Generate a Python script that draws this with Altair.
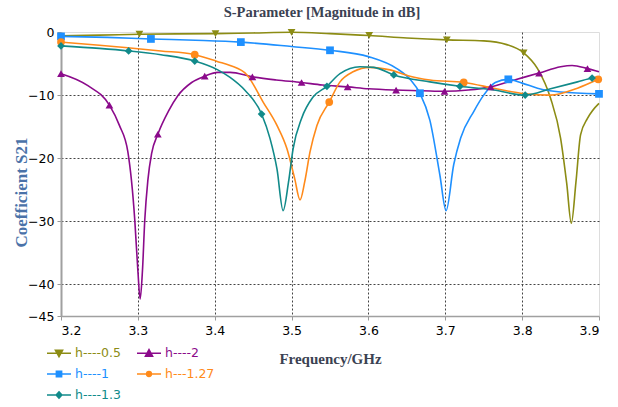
import altair as alt
import pandas as pd

series_names = ["h----0.5", "h----2", "h----1", "h---1.27", "h----1.3"]
series_colors = ["#8c8c14", "#8b0a8b", "#1e90ff", "#ff8a1a", "#118a8a"]
series_shapes = ["triangle-down", "triangle-up", "square", "circle", "diamond"]

# h----0.5
f_05 = [3.2, 3.25, 3.302, 3.35, 3.401, 3.45, 3.5, 3.55, 3.601, 3.65, 3.702, 3.75, 3.78, 3.802, 3.82, 3.837, 3.85, 3.858, 3.864, 3.87, 3.876, 3.885, 3.9]
s_05 = [-0.6, -0.5, -0.35, -0.3, -0.25, -0.15, -0.05, -0.25, -0.55, -0.95, -1.25, -1.4, -2.0, -3.3, -5.8, -10.5, -16.8, -24.0, -30.3, -23.8, -16.3, -13.7, -11.3]
mf_05 = [3.302, 3.401, 3.5, 3.601, 3.702, 3.802]
ms_05 = [-0.35, -0.25, -0.05, -0.55, -1.25, -3.3]

# h----2
f_2 = [3.2, 3.235, 3.263, 3.276, 3.287, 3.296, 3.3, 3.303, 3.306, 3.309, 3.313, 3.318, 3.326, 3.34, 3.352, 3.37, 3.387, 3.404, 3.42, 3.449, 3.48, 3.513, 3.54, 3.573, 3.6, 3.636, 3.67, 3.699, 3.73, 3.759, 3.79, 3.822, 3.85, 3.865, 3.885, 3.9]
s_2 = [-6.6, -8.5, -11.6, -14.8, -19.0, -29.8, -37.8, -42.3, -37.8, -29.8, -23.5, -19.2, -16.2, -12.5, -10.1, -8.0, -7.0, -6.4, -6.4, -7.1, -7.6, -8.0, -8.4, -8.7, -9.0, -9.2, -9.3, -9.4, -9.2, -8.7, -7.6, -6.5, -5.5, -5.3, -5.8, -6.3]
mf_2 = [3.2, 3.263, 3.326, 3.387, 3.449, 3.513, 3.573, 3.636, 3.699, 3.759, 3.822, 3.885]
ms_2 = [-6.6, -11.6, -16.2, -7.0, -7.1, -8.0, -8.7, -9.2, -9.4, -8.7, -6.5, -5.8]

# h----1
f_1 = [3.2, 3.26, 3.317, 3.375, 3.434, 3.5, 3.55, 3.6, 3.637, 3.655, 3.667, 3.68, 3.693, 3.701, 3.711, 3.72, 3.737, 3.75, 3.765, 3.782, 3.8, 3.82, 3.85, 3.9]
s_1 = [-0.7, -0.85, -1.1, -1.3, -1.6, -2.3, -2.9, -3.9, -5.8, -7.6, -9.7, -14.0, -22.7, -28.3, -21.0, -16.8, -12.6, -10.0, -8.0, -7.5, -8.1, -8.9, -9.5, -9.8]
mf_1 = [3.2, 3.317, 3.434, 3.55, 3.667, 3.782, 3.9]
ms_1 = [-0.7, -1.1, -1.6, -2.9, -9.7, -7.5, -9.8]

# h---1.27
f_127 = [3.2, 3.25, 3.287, 3.33, 3.374, 3.404, 3.42, 3.442, 3.463, 3.481, 3.494, 3.504, 3.511, 3.517, 3.524, 3.533, 3.549, 3.563, 3.58, 3.602, 3.628, 3.654, 3.68, 3.724, 3.763, 3.798, 3.837, 3.872, 3.899]
s_127 = [-1.6, -2.1, -2.5, -3.0, -3.6, -4.7, -5.3, -6.8, -11.1, -14.8, -18.5, -23.2, -26.6, -23.8, -19.0, -14.8, -11.1, -7.9, -6.3, -5.6, -6.0, -7.0, -7.6, -8.0, -8.9, -9.7, -10.0, -8.9, -7.5]
mf_127 = [3.2, 3.374, 3.549, 3.724, 3.899]
ms_127 = [-1.6, -3.6, -11.1, -8.0, -7.5]

# h----1.3
f_13 = [3.2, 3.25, 3.288, 3.33, 3.374, 3.404, 3.42, 3.439, 3.461, 3.472, 3.481, 3.489, 3.496, 3.502, 3.513, 3.528, 3.546, 3.563, 3.589, 3.607, 3.633, 3.68, 3.719, 3.763, 3.804, 3.837, 3.872, 3.891, 3.9]
s_13 = [-2.2, -2.6, -3.0, -3.6, -4.6, -6.0, -7.2, -9.2, -13.0, -16.9, -21.7, -28.3, -23.8, -18.5, -13.7, -10.3, -8.6, -6.6, -5.5, -5.6, -6.8, -7.9, -8.6, -9.2, -10.0, -9.0, -7.9, -7.3, -7.1]
mf_13 = [3.2, 3.288, 3.374, 3.461, 3.546, 3.633, 3.719, 3.804, 3.891]
ms_13 = [-2.2, -3.0, -4.6, -13.0, -8.6, -6.8, -8.6, -10.0, -7.3]

x_ticks = [3.2, 3.3, 3.4, 3.5, 3.6, 3.7, 3.8, 3.9]
y_ticks = [0, -10, -20, -30, -40, -45]

curves = [(f_05, s_05), (f_2, s_2), (f_1, s_1), (f_127, s_127), (f_13, s_13)]
marks = [(mf_05, ms_05), (mf_2, ms_2), (mf_1, ms_1), (mf_127, ms_127), (mf_13, ms_13)]

rows = []
for name, (fs, ss) in zip(series_names, curves):
    for f, s in zip(fs, ss):
        rows.append({"f": f, "db": s, "series": name})
curve_df = pd.DataFrame(rows)

rows = []
for name, (fs, ss) in zip(series_names, marks):
    for f, s in zip(fs, ss):
        rows.append({"f": f, "db": s, "series": name})
mark_df = pd.DataFrame(rows)

legend_paths = {
    "h----0.5": "M-1,0L1,0M-0.3,-0.24L0.3,-0.24L0,0.3Z",
    "h----2": "M-1,0L1,0M-0.3,0.24L0.3,0.24L0,-0.3Z",
    "h----1": "M-1,0L1,0M-0.22,-0.22L0.22,-0.22L0.22,0.22L-0.22,0.22Z",
    "h---1.27": "M-1,0L1,0M-0.2,0A0.2,0.2 0 1,0 0.2,0A0.2,0.2 0 1,0 -0.2,0Z",
    "h----1.3": "M-1,0L1,0M0,-0.26L0.24,0L0,0.26L-0.24,0Z",
}
shape_expr = ""
for k, v in legend_paths.items():
    shape_expr += f"datum.value === '{k}' ? '{v}' : "
shape_expr += "'circle'"
col_expr = "scale('color', datum.value)"

legend = alt.Legend(
    title=None,
    orient="none",
    direction="horizontal",
    legendX=-15,
    legendY=308,
    columns=2,
    columnPadding=13,
    rowPadding=1,
    padding=0,
    symbolSize=576,
    symbolType=alt.expr(shape_expr),
    symbolFillColor=alt.expr(col_expr),
    symbolStrokeColor=alt.expr(col_expr),
    symbolStrokeWidth=1.5,
    symbolOpacity=1,
    labelColor=alt.expr(col_expr),
    labelOffset=3,
    labelFont="DejaVu Sans",
    labelFontSize=12.5,
)

color = alt.Color(
    "series:N",
    scale=alt.Scale(domain=series_names, range=series_colors),
    legend=legend,
)

x_enc = alt.X(
    "f:Q",
    scale=alt.Scale(domain=[3.2, 3.9], nice=False, zero=False),
    axis=alt.Axis(
        values=x_ticks,
        format=".1f",
        title="Frequency/GHz",
        titleFont="Liberation Serif",
        titleFontSize=15,
        titleFontWeight="bold",
        titleColor="#3b4252",
        titlePadding=15,
        labelFont="DejaVu Sans",
        labelFontSize=12.5,
        labelColor="#000000",
        labelPadding=4,
        tickSize=4,
        tickColor="#999999",
        domainColor="#a0a0a0",
        domainWidth=1.5,
        grid=True,
        gridColor="#444444",
        gridDash=[2, 2],
        gridWidth=1,
        gridOpacity={"condition": {"test": "datum.value < 3.25 || datum.value > 3.85", "value": 0}, "value": 1},
    ),
)

y_enc = alt.Y(
    "db:Q",
    scale=alt.Scale(domain=[-45, 0], nice=False, zero=False),
    axis=alt.Axis(
        values=y_ticks,
        title="Coefficient S21",
        titleFont="Liberation Serif",
        titleFontSize=17,
        titleFontWeight="bold",
        titleColor="#4a72a8",
        titleAngle=270,
        titleX=-40,
        titleY=160,
        titleAlign="center",
        titleBaseline="middle",
        labelFont="DejaVu Sans",
        labelFontSize=12.5,
        labelColor="#000000",
        labelPadding=3,
        tickSize=4,
        tickColor="#999999",
        domainColor="#a0a0a0",
        domainWidth=2,
        grid=True,
        gridColor="#444444",
        gridDash=[2, 2],
        gridWidth=1,
        gridOpacity={"condition": {"test": "datum.value > -5 || datum.value < -42", "value": 0}, "value": 1},
    ),
)

lines = alt.Chart(curve_df).mark_line(strokeWidth=1.6, interpolate="monotone").encode(
    x=x_enc, y=y_enc, color=color, detail="series:N"
)

point_layers = []
for name, shp in zip(series_names, series_shapes):
    point_layers.append(
        alt.Chart(mark_df)
        .transform_filter(alt.datum.series == name)
        .mark_point(filled=True, opacity=1, size=60, shape=shp)
        .encode(x="f:Q", y="db:Q", color=color)
    )

chart = (
    alt.layer(lines, *point_layers)
    .properties(
        width=538,
        height=284,
        padding={"left": 61, "top": 32, "right": 19, "bottom": 91},
        autosize=alt.AutoSizeParams(type="none"),
        title=alt.TitleParams(
            "S-Parameter [Magnitude in dB]",
            font="Liberation Serif",
            fontSize=14.5,
            fontWeight="bold",
            color="#3b4252",
            offset=6,
            dx=-8,
            anchor="middle",
        ),
    )
    .configure_view(stroke="#a6a6a6", strokeWidth=1.5)
    .configure(background="white")
)

chart.save("out.html", embed_options={"renderer": "svg", "actions": False})
